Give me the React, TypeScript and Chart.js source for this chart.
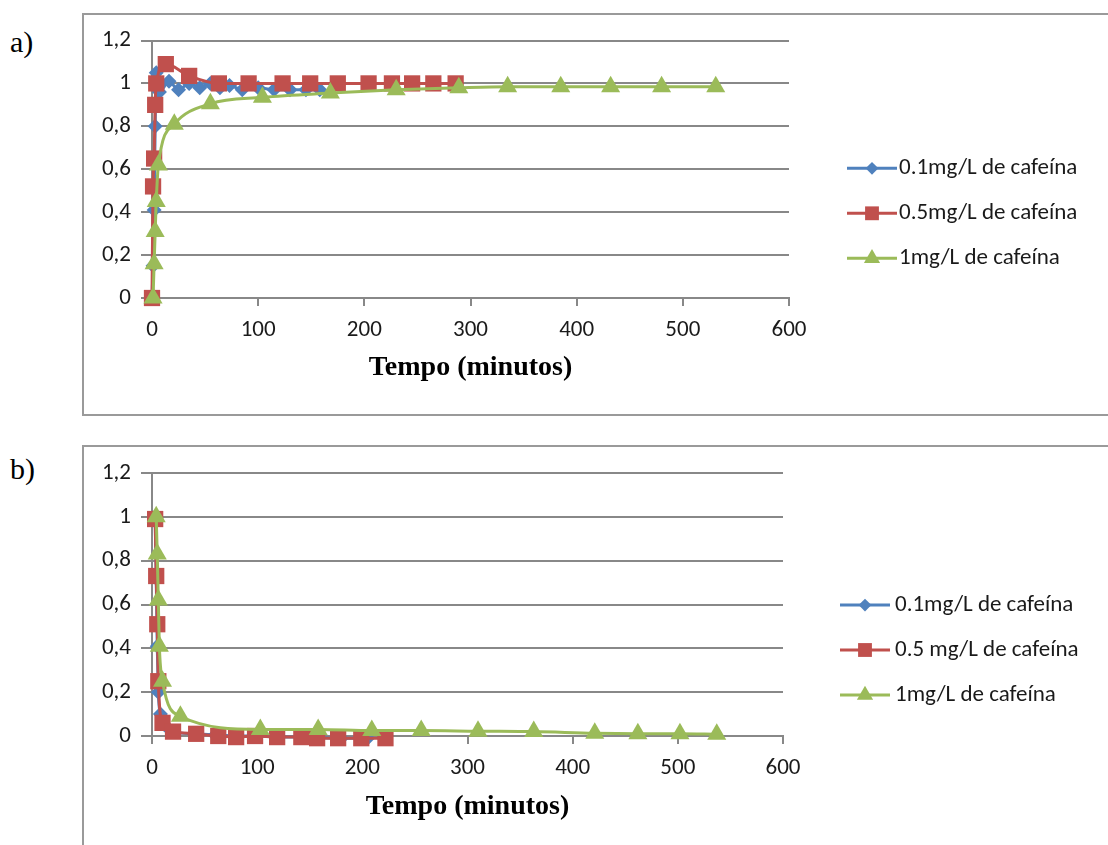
import React, { useEffect, useRef } from 'react';
import { Chart, registerables } from 'chart.js';
import { drawPoint } from 'chart.js/helpers';

Chart.register(...registerables);

// ---------- data ----------
const namesA = ['0.1mg/L de cafeína', '0.5mg/L de cafeína', '1mg/L de cafeína'];
const namesB = ['0.1mg/L de cafeína', '0.5 mg/L de cafeína', '1mg/L de cafeína'];
const xTitle = 'Tempo (minutos)';
const xTickValues = [0, 100, 200, 300, 400, 500, 600];
const yTickLabels = ['0', '0,2', '0,4', '0,6', '0,8', '1', '1,2'];

// a) 0.1 mg/L
const aBlueX = [0, 1, 2, 3, 4, 7, 16, 25, 35, 45, 55, 64, 73, 85, 100, 115, 130, 145, 158];
const aBlueY = [0, 0.15, 0.41, 0.8, 1.05, 0.96, 1.01, 0.97, 1.0, 0.98, 1.0, 0.98, 0.99, 0.97, 0.98, 0.97, 0.97, 0.97, 0.97];
// a) 0.5 mg/L
const aRedX = [0, 1, 2, 3, 4, 13, 35, 63, 91, 123, 149, 175, 204, 226, 245, 265, 286];
const aRedY = [0, 0.52, 0.65, 0.9, 1.0, 1.09, 1.035, 1.0, 1.0, 1.0, 1.0, 1.0, 1.0, 1.0, 1.0, 1.0, 1.0];
// a) 1 mg/L
const aGreenX = [1, 2, 3, 4, 6, 21, 55, 104, 168, 230, 289, 335, 385, 432, 480, 531];
const aGreenY = [0, 0.16, 0.31, 0.45, 0.62, 0.81, 0.905, 0.935, 0.955, 0.97, 0.98, 0.985, 0.985, 0.985, 0.985, 0.985];

// b) 0.1 mg/L
const bBlueX = [3, 4, 5, 6, 8, 12, 20, 40, 60, 80, 100, 120, 150, 180, 205];
const bBlueY = [1.0, 0.72, 0.41, 0.2, 0.1, 0.05, 0.02, 0.01, 0.005, 0, 0, -0.005, -0.005, -0.01, -0.01];
// b) 0.5 mg/L
const bRedX = [3, 4, 5, 6, 10, 20, 42, 63, 80, 98, 119, 142, 157, 177, 199, 222];
const bRedY = [0.99, 0.73, 0.51, 0.25, 0.06, 0.02, 0.01, 0, -0.005, 0, -0.005, -0.005, -0.01, -0.01, -0.01, -0.01];
// b) 1 mg/L
const bGreenX = [4, 5, 6, 7, 10, 27, 103, 158, 209, 256, 310, 363, 421, 462, 502, 537];
const bGreenY = [1.0, 0.83, 0.62, 0.41, 0.25, 0.09, 0.03, 0.03, 0.025, 0.025, 0.022, 0.02, 0.012, 0.01, 0.01, 0.008];

// ---------- styles ----------
const BLUE = '#4F81BD';
const RED = '#C0504D';
const GREEN = '#9BBB59';
const GRID = '#888888';
const TEXT = '#1a1a1a';
const SANS = 'Carlito, Lato, "Open Sans", sans-serif';
const SERIF = '"Liberation Serif", "Times New Roman", serif';
const FONT_SIZE = 23;

type Series = { name: string; xs: number[]; ys: number[]; color: string; style: string; radius: number; order: number };

const sideLegend = {
  id: 'sideLegend',
  afterDraw(chart: any, _args: any, opts: any) {
    const ctx = chart.ctx as CanvasRenderingContext2D;
    ctx.save();
    chart.data.datasets.forEach((ds: any, i: number) => {
      const y = opts.ys[i];
      ctx.strokeStyle = ds.borderColor;
      ctx.lineWidth = 3;
      ctx.beginPath();
      ctx.moveTo(opts.x0, y);
      ctx.lineTo(opts.x1, y);
      ctx.stroke();
      ctx.fillStyle = ds.pointBackgroundColor;
      drawPoint(ctx, { pointStyle: ds.pointStyle, radius: ds.pointRadius * 0.85, borderWidth: 0, rotation: 0 } as any, (opts.x0 + opts.x1) / 2, y);
      ctx.fillStyle = TEXT;
      ctx.font = `${FONT_SIZE}px ${SANS}`;
      ctx.textBaseline = 'middle';
      ctx.textAlign = 'left';
      ctx.fillText(ds.label, opts.tx, y);
    });
    ctx.restore();
  },
};

function makeConfig(series: Series[], pad: any, xScaleH: number, legend: any) {
  return {
    type: 'line',
    data: {
      datasets: series.map((s) => ({
        label: s.name,
        data: s.xs.map((x, i) => ({ x, y: s.ys[i] })),
        borderColor: s.color,
        backgroundColor: s.color,
        pointBackgroundColor: s.color,
        pointBorderColor: s.color,
        pointBorderWidth: 0,
        pointStyle: s.style,
        pointRadius: s.radius,
        borderWidth: 3,
        cubicInterpolationMode: 'monotone',
        clip: false,
        order: s.order,
        fill: false,
      })),
    },
    options: {
      responsive: false,
      animation: false,
      devicePixelRatio: 1,
      layout: { padding: pad },
      plugins: {
        legend: { display: false },
        tooltip: { enabled: false },
        sideLegend: legend,
      },
      scales: {
        x: {
          type: 'linear',
          min: 0,
          max: 600,
          afterBuildTicks: (scale: any) => {
            scale.ticks = xTickValues.map((v) => ({ value: v }));
          },
          afterFit: (scale: any) => {
            scale.height = xScaleH;
          },
          ticks: { padding: 10, color: TEXT, font: { family: SANS, size: FONT_SIZE }, maxRotation: 0, callback: (v: any) => String(v) },
          grid: { display: true, drawOnChartArea: false, drawTicks: true, tickLength: 8, color: GRID, lineWidth: 2 },
          border: { display: true, color: GRID, width: 2 },
          title: { display: true, text: xTitle, color: '#000', font: { family: SERIF, size: 28, weight: 'bold' }, padding: { top: 4, bottom: 4 } },
        },
        y: {
          type: 'linear',
          min: 0,
          max: 1.2,
          afterFit: (scale: any) => {
            scale.width = 68;
          },
          ticks: {
            stepSize: 0.2,
            padding: 10,
            color: TEXT,
            font: { family: SANS, size: FONT_SIZE },
            callback: (v: any) => yTickLabels[Math.round(Number(v) / 0.2)],
          },
          grid: { color: GRID, lineWidth: 2, drawTicks: true, tickLength: 11 },
          border: { display: true, color: GRID, width: 2 },
        },
      },
    },
    plugins: [sideLegend],
  } as any;
}

function ChartBox(props: { left: number; top: number; width: number; height: number; config: any }) {
  const ref = useRef<HTMLCanvasElement>(null);
  useEffect(() => {
    if (!ref.current) return;
    const chart = new Chart(ref.current, props.config);
    return () => chart.destroy();
  }, []);
  return (
    <canvas
      ref={ref}
      width={props.width}
      height={props.height}
      style={{ position: 'absolute', left: props.left, top: props.top, width: props.width, height: props.height }}
    />
  );
}

const seriesA: Series[] = [
  { name: namesA[0], xs: aBlueX, ys: aBlueY, color: BLUE, style: 'rectRot', radius: 7.5, order: 3 },
  { name: namesA[1], xs: aRedX, ys: aRedY, color: RED, style: 'rect', radius: 11.5, order: 2 },
  { name: namesA[2], xs: aGreenX, ys: aGreenY, color: GREEN, style: 'triangle', radius: 11, order: 1 },
];
const seriesB: Series[] = [
  { name: namesB[0], xs: bBlueX, ys: bBlueY, color: BLUE, style: 'rectRot', radius: 7.5, order: 3 },
  { name: namesB[1], xs: bRedX, ys: bRedY, color: RED, style: 'rect', radius: 11.5, order: 2 },
  { name: namesB[2], xs: bGreenX, ys: bGreenY, color: GREEN, style: 'triangle', radius: 11, order: 1 },
];

const configA = makeConfig(seriesA, { left: 0, top: 25.5, right: 319, bottom: 25.2 }, 90.8, { x0: 763, x1: 813, tx: 815, ys: [153.3, 198.3, 243.3] });
const configB = makeConfig(seriesB, { left: 0, top: 26, right: 325, bottom: 17.2 }, 91.8, { x0: 756, x1: 806, tx: 811, ys: [158, 203, 248] });

export default function App() {
  const labelStyle: React.CSSProperties = { position: 'absolute', left: 10, font: `30px ${SERIF}`, lineHeight: '36px', color: '#000' };
  return (
    <div style={{ position: 'absolute', left: 0, top: 0, width: 1108, height: 845, overflow: 'hidden', background: '#fff' }}>
      <div style={{ ...labelStyle, top: 24 }}>a)</div>
      <div style={{ ...labelStyle, top: 451 }}>b)</div>
      <div style={{ position: 'absolute', left: 82, top: 13, width: 1100, height: 399, border: `2px solid #9a9a9a` }} />
      <div style={{ position: 'absolute', left: 82, top: 445, width: 1100, height: 500, border: `2px solid #9a9a9a` }} />
      <ChartBox left={84} top={15} width={1024} height={399} config={configA} />
      <ChartBox left={84} top={447} width={1024} height={398} config={configB} />
    </div>
  );
}
